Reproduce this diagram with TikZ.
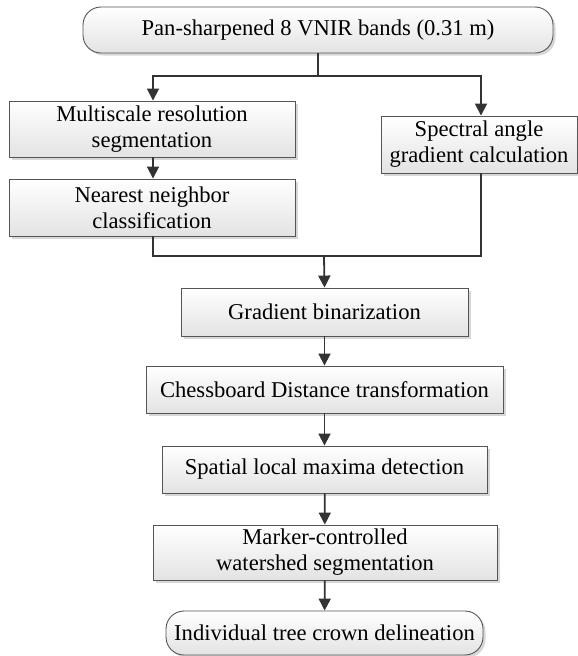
\documentclass[tikz,border=0pt]{standalone}
\usepackage{fontspec}
\setmainfont{Liberation Serif}
\usetikzlibrary{arrows.meta,shadows}
\definecolor{linecol}{HTML}{333333}
\definecolor{boxline}{HTML}{555555}
\tikzset{
  procbox/.style={draw=boxline, line width=0.9pt, rectangle, top color=white, bottom color=gray!22,
    drop shadow={shadow xshift=2.5pt, shadow yshift=-2.5pt, fill=gray!45, opacity=0.7},
    align=center, inner sep=0pt, font=\fontsize{22.6}{26}\selectfont, text=black},
  termbox/.style={procbox, rounded corners=18pt},
  conn/.style={draw=linecol, line width=1.8pt},
  arr/.style={conn, -{Triangle[width=12pt,length=12pt]}}
}
\begin{document}
\begin{tikzpicture}[x=1pt,y=-1pt]
\useasboundingbox (0,0) rectangle (578,656);
\node[termbox, minimum width=470pt, minimum height=46pt] (top) at (318,30) {Pan-sharpened 8 VNIR bands (0.31 m)};
\node[procbox, minimum width=286pt, minimum height=56pt] (l1) at (152,129) {Multiscale resolution\\segmentation};
\node[procbox, minimum width=286pt, minimum height=57pt] (l2) at (152,207.5) {Nearest neighbor\\classification};
\node[procbox, minimum width=196pt, minimum height=57pt] (r) at (479,144.5) {Spectral angle\\gradient calculation};
\node[procbox, minimum width=287pt, minimum height=48pt] (gb) at (324.5,312) {Gradient binarization};
\node[procbox, minimum width=357pt, minimum height=47pt] (cd) at (324.5,389.5) {Chessboard Distance transformation};
\node[procbox, minimum width=325pt, minimum height=47pt] (sl) at (324.5,469.5) {Spatial local maxima detection};
\node[procbox, minimum width=344pt, minimum height=55pt] (mc) at (325,552.5) {Marker-controlled\\watershed segmentation};
\node[termbox, minimum width=317pt, minimum height=44pt] (fin) at (324.5,633) {Individual tree crown delineation};

\coordinate (split) at (318,76);
\coordinate (merge) at (324,256);
\draw[conn] (top.south -| split) -- (split);
\draw[arr] (split) -| (l1.north -| 153,0);
\draw[arr] (split) -| (r.north -| 481,0);
\draw[arr] (l1.south -| 153,0) -- (l2.north -| 153,0);
\draw[conn] (l2.south -| 153,0) |- (merge);
\draw[conn] (r.south -| 481,0) |- (merge);
\draw[arr] (merge) -- (gb.north);
\draw[arr] (gb) -- (cd);
\draw[arr] (cd) -- (sl);
\draw[arr] (sl) -- (mc);
\draw[arr] (mc) -- (fin);
\end{tikzpicture}
\end{document}
